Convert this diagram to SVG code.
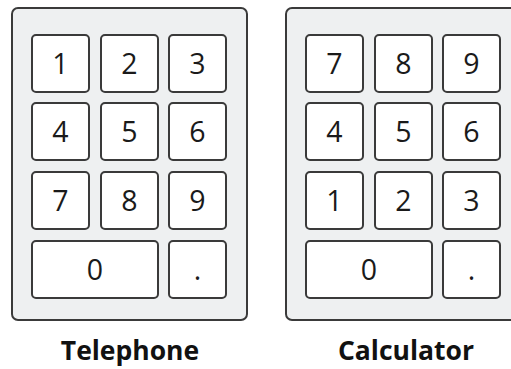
<svg xmlns="http://www.w3.org/2000/svg" width="511" height="369" viewBox="0 0 511 369">
<style>
.panel{fill:#eef0f1;stroke:#3a3a3a;stroke-width:2}
.key{fill:#ffffff;stroke:#3a3a3a;stroke-width:2}
.d{font-family:"Open Sans","Liberation Sans",sans-serif;font-size:28.5px;fill:#1a1a1a;text-anchor:middle}
.lbl{font-family:"Open Sans","Liberation Sans",sans-serif;font-size:26.5px;font-weight:bold;fill:#111;text-anchor:middle}
</style>
<rect width="511" height="369" fill="#ffffff"/>
<g id="telephone">
<rect class="panel" x="12" y="8" width="235" height="312" rx="6"/>
<g id="t1"><rect class="key" x="32" y="35" width="57" height="57" rx="4"/><text class="d" x="60.5" y="74">1</text></g>
<g id="t2"><rect class="key" x="101" y="35" width="57" height="57" rx="4"/><text class="d" x="129.5" y="74">2</text></g>
<g id="t3"><rect class="key" x="169" y="35" width="57" height="57" rx="4"/><text class="d" x="197.5" y="74">3</text></g>
<g id="t4"><rect class="key" x="32" y="103" width="57" height="57" rx="4"/><text class="d" x="60.5" y="142">4</text></g>
<g id="t5"><rect class="key" x="101" y="103" width="57" height="57" rx="4"/><text class="d" x="129.5" y="142">5</text></g>
<g id="t6"><rect class="key" x="169" y="103" width="57" height="57" rx="4"/><text class="d" x="197.5" y="142">6</text></g>
<g id="t7"><rect class="key" x="32" y="172" width="57" height="57" rx="4"/><text class="d" x="60.5" y="211">7</text></g>
<g id="t8"><rect class="key" x="101" y="172" width="57" height="57" rx="4"/><text class="d" x="129.5" y="211">8</text></g>
<g id="t9"><rect class="key" x="169" y="172" width="57" height="57" rx="4"/><text class="d" x="197.5" y="211">9</text></g>
<g id="t0"><rect class="key" x="32" y="241" width="126" height="57" rx="4"/><text class="d" x="95" y="280">0</text></g>
<g id="tdot"><rect class="key" x="169" y="241" width="57" height="57" rx="4"/><text class="d" x="197.5" y="280">.</text></g>
<text class="lbl" x="130" y="360">Telephone</text>
</g>
<g id="calculator">
<rect class="panel" x="286" y="8" width="235" height="312" rx="6"/>
<g id="c7"><rect class="key" x="306" y="35" width="57" height="57" rx="4"/><text class="d" x="334.5" y="74">7</text></g>
<g id="c8"><rect class="key" x="375" y="35" width="57" height="57" rx="4"/><text class="d" x="403.5" y="74">8</text></g>
<g id="c9"><rect class="key" x="443" y="35" width="57" height="57" rx="4"/><text class="d" x="471.5" y="74">9</text></g>
<g id="c4"><rect class="key" x="306" y="103" width="57" height="57" rx="4"/><text class="d" x="334.5" y="142">4</text></g>
<g id="c5"><rect class="key" x="375" y="103" width="57" height="57" rx="4"/><text class="d" x="403.5" y="142">5</text></g>
<g id="c6"><rect class="key" x="443" y="103" width="57" height="57" rx="4"/><text class="d" x="471.5" y="142">6</text></g>
<g id="c1"><rect class="key" x="306" y="172" width="57" height="57" rx="4"/><text class="d" x="334.5" y="211">1</text></g>
<g id="c2"><rect class="key" x="375" y="172" width="57" height="57" rx="4"/><text class="d" x="403.5" y="211">2</text></g>
<g id="c3"><rect class="key" x="443" y="172" width="57" height="57" rx="4"/><text class="d" x="471.5" y="211">3</text></g>
<g id="c0"><rect class="key" x="306" y="241" width="126" height="57" rx="4"/><text class="d" x="369" y="280">0</text></g>
<g id="cdot"><rect class="key" x="443" y="241" width="57" height="57" rx="4"/><text class="d" x="471.5" y="280">.</text></g>
<text class="lbl" x="406" y="360">Calculator</text>
</g>
<g id="connectors"/>
</svg>
